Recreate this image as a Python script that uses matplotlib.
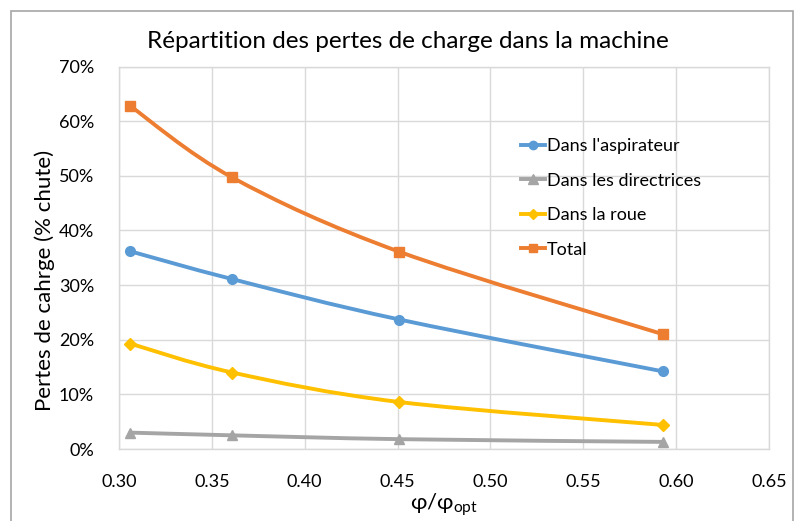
import matplotlib
matplotlib.use("Agg")
import matplotlib.pyplot as plt
from matplotlib.path import Path
from matplotlib.patches import PathPatch, Rectangle
from matplotlib.lines import Line2D
from matplotlib.ticker import FuncFormatter, MultipleLocator

plt.rcParams['font.family'] = ['Lato', 'DejaVu Sans']

# Débit relatif phi/phi_opt
phi_ratio = [0.306, 0.361, 0.451, 0.593]

# Pertes de charge en % de la chute
aspirateur = [36.2, 31.1, 23.7, 14.2]
directrices = [3.0, 2.5, 1.8, 1.3]
roue = [19.3, 14.0, 8.6, 4.4]
total = [62.8, 49.7, 36.1, 21.0]

series_labels = ["Dans l'aspirateur", "Dans les directrices", "Dans la roue", "Total"]
series_colors = ["#5B9BD5", "#A5A5A5", "#FFC000", "#ED7D31"]
series_markers = ["o", "^", "D", "s"]
series_sizes = [7, 7.5, 6, 6.5]


def smooth_path(xs, ys):
    # courbe lissée type Catmull-Rom, convertie en segments de Bézier
    pts = list(zip(xs, ys))
    n = len(pts)
    verts = [pts[0]]
    codes = [Path.MOVETO]
    for i in range(n - 1):
        p0 = pts[i - 1] if i > 0 else pts[i]
        p1 = pts[i]
        p2 = pts[i + 1]
        p3 = pts[i + 2] if i + 2 < n else pts[i + 1]
        c1 = (p1[0] + (p2[0] - p0[0]) / 6, p1[1] + (p2[1] - p0[1]) / 6)
        c2 = (p2[0] - (p3[0] - p1[0]) / 6, p2[1] - (p3[1] - p1[1]) / 6)
        verts += [c1, c2, p2]
        codes += [Path.CURVE4] * 3
    return Path(verts, codes)


W, H = 794, 521
fig = plt.figure(figsize=(W / 100, H / 100), dpi=100)
ax = fig.add_axes([119 / W, 1 - 449 / H, 650 / W, 382.4 / H])

# cadre extérieur du graphique
fig.patches.append(Rectangle((11 / W, -0.1), (782 / W), 1.1 - 11 / H,
                             transform=fig.transFigure, fill=False,
                             edgecolor="#A6A6A6", linewidth=1.2))

handles = []
for ys, lab, col, mk, ms in zip([aspirateur, directrices, roue, total],
                                series_labels, series_colors,
                                series_markers, series_sizes):
    ax.add_patch(PathPatch(smooth_path(phi_ratio, ys), fill=False,
                           edgecolor=col, linewidth=2.8,
                           capstyle="round", joinstyle="round", zorder=3))
    ax.plot(phi_ratio, ys, linestyle="none", marker=mk, markersize=ms,
            color=col, zorder=4)
    handles.append(Line2D([], [], color=col, linewidth=2.8, marker=mk,
                          markersize=ms - 1, label=lab))

ax.set_xlim(0.30, 0.65)
ax.set_ylim(0, 70)
ax.xaxis.set_major_locator(MultipleLocator(0.05))
ax.yaxis.set_major_locator(MultipleLocator(10))
ax.xaxis.set_major_formatter(FuncFormatter(lambda v, p: f"{v:.2f}"))
ax.yaxis.set_major_formatter(FuncFormatter(lambda v, p: f"{v:.0f}%"))
ax.grid(True, color="#D9D9D9", linewidth=1)
ax.set_axisbelow(True)
for s in ax.spines.values():
    s.set_color("#D9D9D9")
    s.set_linewidth(1)
ax.tick_params(length=0, labelsize=13, colors="#000000")
ax.tick_params(axis="x", pad=18)
ax.tick_params(axis="y", pad=18)

ax.set_ylabel("Pertes de cahrge (% chute)", fontsize=16)
ax.yaxis.set_label_coords(-0.098, 0.442)
ax.set_xlabel(r"φ/φ$_{\mathregular{opt}}$", fontsize=16, labelpad=1)

fig.text(408 / W, 1 - 42 / H, "Répartition des pertes de charge dans la machine",
         ha="center", va="center", fontsize=17.5)

ax.legend(handles=handles, loc="upper left", frameon=False,
          bbox_to_anchor=(505 / W, 1 - 122 / H), bbox_transform=fig.transFigure,
          fontsize=13, handlelength=1.3, handletextpad=0.1,
          labelspacing=1.02)

fig.savefig("out.png", dpi=100)
